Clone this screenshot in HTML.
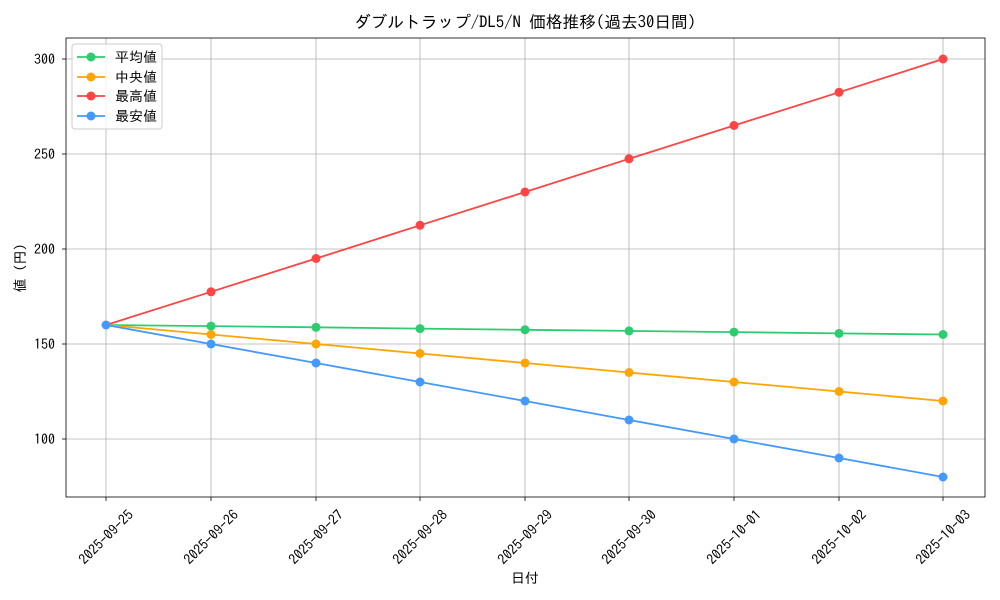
<!DOCTYPE html>
<html><head><meta charset="utf-8"><style>
body{margin:0;background:#fff}
svg{display:block;font-family:"IPAGothic","Noto Sans CJK JP",monospace}
</style></head><body>
<svg width="1000" height="600" xmlns="http://www.w3.org/2000/svg">
<rect width="1000" height="600" fill="#fff"/>
<g stroke="#b0b0b0" stroke-width="0.8">
<line x1="106" y1="38" x2="106" y2="497"/><line x1="211" y1="38" x2="211" y2="497"/><line x1="316" y1="38" x2="316" y2="497"/><line x1="420" y1="38" x2="420" y2="497"/><line x1="525" y1="38" x2="525" y2="497"/><line x1="629" y1="38" x2="629" y2="497"/><line x1="734" y1="38" x2="734" y2="497"/><line x1="839" y1="38" x2="839" y2="497"/><line x1="943" y1="38" x2="943" y2="497"/>
<line x1="66" y1="59" x2="985" y2="59"/><line x1="66" y1="154" x2="985" y2="154"/><line x1="66" y1="249" x2="985" y2="249"/><line x1="66" y1="344" x2="985" y2="344"/><line x1="66" y1="439" x2="985" y2="439"/>
</g>
<rect x="66" y="38" width="919" height="459" fill="none" stroke="#000" stroke-width="0.8"/>
<g stroke="#000" stroke-width="0.8">
<line x1="106" y1="497" x2="106" y2="501"/><line x1="211" y1="497" x2="211" y2="501"/><line x1="316" y1="497" x2="316" y2="501"/><line x1="420" y1="497" x2="420" y2="501"/><line x1="525" y1="497" x2="525" y2="501"/><line x1="629" y1="497" x2="629" y2="501"/><line x1="734" y1="497" x2="734" y2="501"/><line x1="839" y1="497" x2="839" y2="501"/><line x1="943" y1="497" x2="943" y2="501"/>
<line x1="62" y1="59" x2="66" y2="59"/><line x1="62" y1="154" x2="66" y2="154"/><line x1="62" y1="249" x2="66" y2="249"/><line x1="62" y1="344" x2="66" y2="344"/><line x1="62" y1="439" x2="66" y2="439"/>
</g>
<g font-size="14" text-anchor="end" fill="#000">
<text x="55" y="64">300</text><text x="55" y="159">250</text><text x="55" y="254">200</text><text x="55" y="349">150</text><text x="55" y="444">100</text>
</g>
<g font-size="14" text-anchor="middle" fill="#000">
<text transform="translate(106,537) rotate(-45)" dy="5">2025-09-25</text>
<text transform="translate(211,537) rotate(-45)" dy="5">2025-09-26</text>
<text transform="translate(316,537) rotate(-45)" dy="5">2025-09-27</text>
<text transform="translate(420,537) rotate(-45)" dy="5">2025-09-28</text>
<text transform="translate(525,537) rotate(-45)" dy="5">2025-09-29</text>
<text transform="translate(629,537) rotate(-45)" dy="5">2025-09-30</text>
<text transform="translate(734,537) rotate(-45)" dy="5">2025-10-01</text>
<text transform="translate(839,537) rotate(-45)" dy="5">2025-10-02</text>
<text transform="translate(943,537) rotate(-45)" dy="5">2025-10-03</text>
</g>
<text x="525" y="583" font-size="14" text-anchor="middle">日付</text>
<text transform="translate(25,268) rotate(-90)" font-size="14" text-anchor="middle">値 (円)</text>
<text x="525" y="28" font-size="16.7" text-anchor="middle">ダブルトラップ/DL5/N 価格推移(過去30日間)</text>
<g fill="none" stroke-width="1.8">
<polyline stroke="#2ecc71" points="106,325 211,326.1 316,327.3 420,328.6 525,329.8 629,330.9 734,332.1 839,333.4 943,334.5"/>
<polyline stroke="#ffa500" points="106,325 211,334.5 316,344 420,353.5 525,363 629,372.5 734,382 839,391.5 943,401"/>
<polyline stroke="#ff4444" points="106,325 211,291.8 316,258.5 420,225.3 525,192 629,158.8 734,125.5 839,92.3 943,59"/>
<polyline stroke="#4499ff" points="106,325 211,344 316,363 420,382 525,401 629,420 734,439 839,458 943,477"/>
</g>
<g fill="#2ecc71"><circle cx="211" cy="326.1" r="4.5"/><circle cx="316" cy="327.3" r="4.5"/><circle cx="420" cy="328.6" r="4.5"/><circle cx="525" cy="329.8" r="4.5"/><circle cx="629" cy="330.9" r="4.5"/><circle cx="734" cy="332.1" r="4.5"/><circle cx="839" cy="333.4" r="4.5"/><circle cx="943" cy="334.5" r="4.5"/></g>
<g fill="#ffa500"><circle cx="211" cy="334.5" r="4.5"/><circle cx="316" cy="344" r="4.5"/><circle cx="420" cy="353.5" r="4.5"/><circle cx="525" cy="363" r="4.5"/><circle cx="629" cy="372.5" r="4.5"/><circle cx="734" cy="382" r="4.5"/><circle cx="839" cy="391.5" r="4.5"/><circle cx="943" cy="401" r="4.5"/></g>
<g fill="#ff4444"><circle cx="211" cy="291.8" r="4.5"/><circle cx="316" cy="258.5" r="4.5"/><circle cx="420" cy="225.3" r="4.5"/><circle cx="525" cy="192" r="4.5"/><circle cx="629" cy="158.8" r="4.5"/><circle cx="734" cy="125.5" r="4.5"/><circle cx="839" cy="92.3" r="4.5"/><circle cx="943" cy="59" r="4.5"/></g>
<g fill="#4499ff"><circle cx="106" cy="325" r="4.5"/><circle cx="211" cy="344" r="4.5"/><circle cx="316" cy="363" r="4.5"/><circle cx="420" cy="382" r="4.5"/><circle cx="525" cy="401" r="4.5"/><circle cx="629" cy="420" r="4.5"/><circle cx="734" cy="439" r="4.5"/><circle cx="839" cy="458" r="4.5"/><circle cx="943" cy="477" r="4.5"/></g>
<rect x="72" y="44" width="90" height="85" rx="3" fill="#fff" fill-opacity="0.8" stroke="#ccc"/>
<g stroke-width="1.8">
<line x1="77" y1="57" x2="105" y2="57" stroke="#2ecc71"/><circle cx="91" cy="57" r="4.5" fill="#2ecc71"/>
<line x1="77" y1="77" x2="105" y2="77" stroke="#ffa500"/><circle cx="91" cy="77" r="4.5" fill="#ffa500"/>
<line x1="77" y1="96" x2="105" y2="96" stroke="#ff4444"/><circle cx="91" cy="96" r="4.5" fill="#ff4444"/>
<line x1="77" y1="116" x2="105" y2="116" stroke="#4499ff"/><circle cx="91" cy="116" r="4.5" fill="#4499ff"/>
</g>
<g font-size="14"><text x="115" y="62">平均値</text><text x="115" y="82">中央値</text><text x="115" y="101">最高値</text><text x="115" y="121">最安値</text></g>
</svg>
</body></html>
